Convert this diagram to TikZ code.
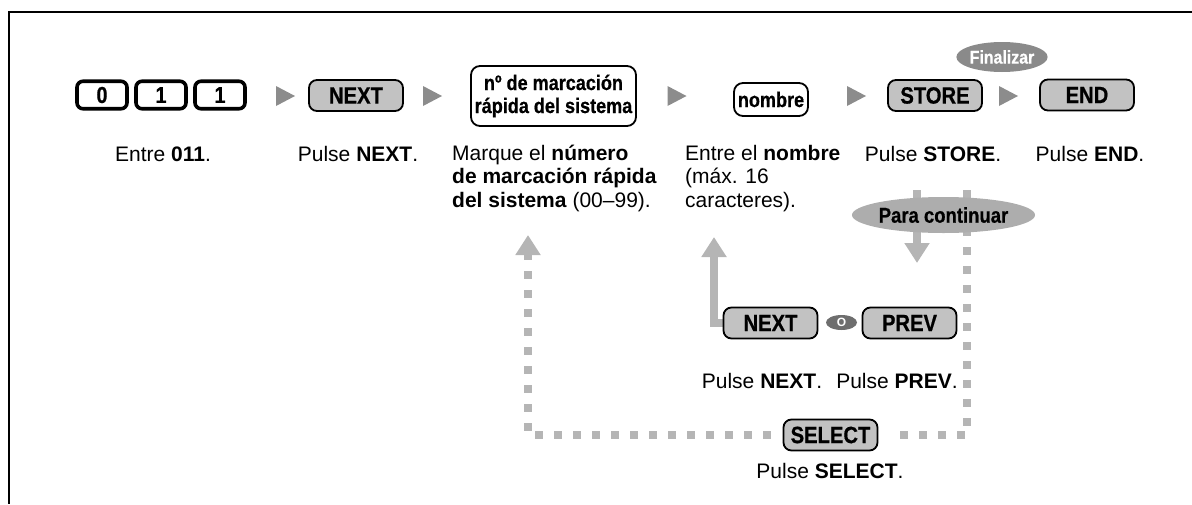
\documentclass[tikz,border=0pt]{standalone}
\usepackage{fontspec}
\setmainfont{Liberation Sans}
\newfontfamily\keyfont[FakeStretch=0.86,FakeBold=0.6]{Liberation Sans}
\usetikzlibrary{arrows.meta,shapes.geometric,backgrounds}
\definecolor{keygray}{HTML}{C2C2C2}
\definecolor{trigray}{HTML}{8C8C8C}
\definecolor{linegray}{HTML}{B5B5B5}
\definecolor{endgray}{HTML}{8A8A8A}
\definecolor{contgray}{HTML}{ADADAD}
\definecolor{orgray}{HTML}{6E6E6E}

\begin{document}
\begin{tikzpicture}[x=1pt,y=-1pt,
  digitkey/.style={draw,fill=white,line width=3.6pt,rounded corners=6pt,
    minimum width=50,minimum height=27.5,inner sep=0pt,
    font=\keyfont\bfseries\fontsize{23}{24}\selectfont},
  softkey/.style={draw,fill=keygray,line width=1.8pt,rounded corners=8pt,
    minimum width=94,minimum height=31,inner sep=0pt,
    font=\keyfont\bfseries\fontsize{23.5}{26}\selectfont},
  entrybox/.style={draw,fill=white,line width=1.8pt,rounded corners=9pt,
    inner sep=0pt,align=center,
    font=\keyfont\bfseries\fontsize{21}{23}\selectfont},
  badge/.style={ellipse,inner sep=0pt,font=\keyfont\bfseries\fontsize{18.5}{20}\selectfont},
  desc/.style={anchor=base,inner sep=0pt,font=\fontsize{21}{23.5}\selectfont},
  descl/.style={desc,anchor=base west,align=left},
  feed/.style={draw=linegray,line width=8pt,-{Triangle[length=20pt,width=24pt]}},
  loopline/.style={draw=linegray,line width=8pt,dash pattern=on 8pt off 11pt},
  steptri/.pic={\fill[trigray] (-9.5,-10) -- (9.5,0) -- (-9.5,10) -- cycle;}]

\useasboundingbox (0,0) rectangle (1192,504);
\draw[line width=2.4pt] (1192,12) -- (9,12) -- (9,504);

% top row: keys and entries, read left to right
\node[digitkey] (key0) at (102,95) {0};
\node[digitkey] (key1) at (161,95) {1};
\node[digitkey] (key2) at (220,95) {1};
\pic at (285.5,96) {steptri};
\node[softkey] (next) at (356,95.5) {NEXT};
\pic at (432.5,96) {steptri};
\node[entrybox,minimum width=165,minimum height=60] (sysno) at (553.5,96)
  {nº de marcación\\rápida del sistema};
\pic at (677,96) {steptri};
\node[entrybox,minimum width=74,minimum height=33] (name) at (771,99.5) {nombre};
\pic at (856.5,96) {steptri};
\node[softkey] (store) at (935,95.5) {STORE};
\pic at (1008.5,96) {steptri};
\node[softkey] (endkey) at (1087,95) {END};
\node[badge,fill=endgray,text=white,minimum width=82,minimum height=30] (finish)
  at (1002,57) {Finalizar};

% what each step means (multi-line texts sit on their last line)
\node[desc] (d011) at (163,161) {Entre \textbf{011}.};
\node[desc] (dnext) at (358,161) {Pulse \textbf{NEXT}.};
\node[descl] (dsysno) at (452,207)
  {Marque el \textbf{número}\\\textbf{de marcación rápida}\\\textbf{del sistema} (00--99).};
\node[descl] (dname) at (685,207) {Entre el \textbf{nombre}\\(máx. 16\\caracteres).};
\node[desc] (dstore) at (933,161) {Pulse \textbf{STORE}.};
\node[desc] (dend) at (1090,161) {Pulse \textbf{END}.};

% continuing: step through entries or pick another one
\node[badge,fill=contgray,minimum width=151,minimum height=36,
  font=\keyfont\bfseries\fontsize{21.5}{23}\selectfont] (cont) at (943.5,215) {Para continuar};
\node[softkey] (next2) at (770.5,323) {NEXT};
\node[badge,fill=orgray,text=white,minimum width=31,minimum height=15,
  font=\bfseries\fontsize{12}{12}\selectfont] (orsep) at (841.5,322.5) {O};
\node[softkey] (prev) at (909.5,323) {PREV};
\node[desc] (dnext2) at (762,388) {Pulse \textbf{NEXT}.};
\node[desc] (dprev) at (897,388) {Pulse \textbf{PREV}.};
\node[softkey] (select) at (830.5,435) {SELECT};
\node[desc] (dselect) at (830,478) {Pulse \textbf{SELECT}.};

\coordinate (storedn) at (917,190);
\coordinate (storetip) at (917,263);
\coordinate (loopin) at (967,190);
\coordinate (sysback) at (528,235);
\coordinate (nameback) at (714,237);

\begin{scope}[on background layer]
\draw[feed] (storedn) -- (storetip);
\draw[loopline] (loopin) |- ([xshift=12pt]select.east);
\draw[loopline,-{Triangle[length=20pt,width=24pt]}] ([xshift=-12pt]select.west) -| (sysback);
\draw[feed] (next2.west) -| (nameback);
\end{scope}
\end{tikzpicture}
\end{document}
